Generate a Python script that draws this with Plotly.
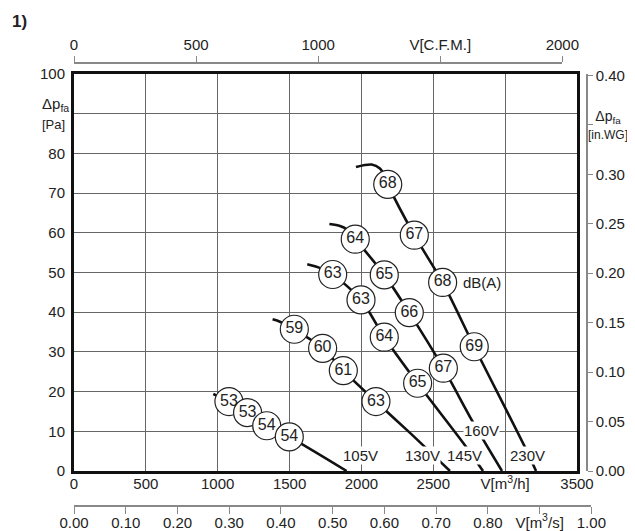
import plotly.graph_objects as go

# fan curves: airflow V [m3/h] vs static pressure dp_fa [Pa]
q_230 = [1962, 2071, 2129, 2152, 2183, 2368, 2565, 2785, 3138, 3215]
p_230 = [76.6, 77.2, 76.2, 74.9, 72.2, 59.4, 47.5, 31.3, 6.0, 0.0]
q_160 = [1777, 1851, 1897, 1957, 2159, 2333, 2570, 2776, 2978]
p_160 = [62.2, 61.7, 60.9, 58.4, 49.4, 39.9, 25.9, 12.3, 0.0]
q_145 = [1623, 1700, 1800, 1997, 2159, 2391, 2720, 2846]
p_145 = [52.1, 51.3, 49.5, 43.1, 33.7, 22.1, 6.5, 0.0]
q_130 = [1382, 1433, 1533, 1730, 1874, 2101, 2338, 2616]
p_130 = [38.2, 37.6, 35.7, 30.9, 25.3, 17.5, 9.6, 0.0]
q_105 = [969, 1078, 1208, 1341, 1498, 1897]
p_105 = [19.4, 17.5, 14.7, 11.4, 8.6, 0.0]

# sound level markers dB(A) on each curve
db_q_230 = [2183, 2368, 2565, 2785]
db_p_230 = [72.2, 59.4, 47.5, 31.3]
db_230 = ["68", "67", "68", "69"]
db_q_160 = [1957, 2159, 2333, 2570]
db_p_160 = [58.4, 49.4, 39.9, 25.9]
db_160 = ["64", "65", "66", "67"]
db_q_145 = [1800, 1997, 2159, 2391]
db_p_145 = [49.5, 43.1, 33.7, 22.1]
db_145 = ["63", "63", "64", "65"]
db_q_130 = [1533, 1730, 1874, 2101]
db_p_130 = [35.7, 30.9, 25.3, 17.5]
db_130 = ["59", "60", "61", "63"]
db_q_105 = [1078, 1208, 1341, 1498]
db_p_105 = [17.5, 14.7, 11.4, 8.6]
db_105 = ["53", "53", "54", "54"]

volt_text = ["105V", "130V", "145V", "160V", "230V"]
volt_q = [1994, 2424, 2720, 2832, 3154]
volt_p = [4.0, 4.0, 4.0, 10.3, 4.0]

# axis ticks
mh_ticks = [0, 500, 1000, 1500, 2000, 2500, 3000, 3500]
mh_text = ["0", "500", "1000", "1500", "2000", "2500", "V[m<sup>3</sup>/h]", "3500"]
pa_ticks = [0, 10, 20, 30, 40, 50, 60, 70, 80, 90, 100]
pa_text = ["0", "10", "20", "30", "40", "50", "60", "70", "80", " ", "100"]
cfm_ticks = [0, 500, 1000, 1500, 2000]
cfm_text = ["0", "500", "1000", "V[C.F.M.]", "2000"]
ms_ticks = [0.0, 0.1, 0.2, 0.3, 0.4, 0.5, 0.6, 0.7, 0.8, 0.9, 1.0]
ms_text = ["0.00", "0.10", "0.20", "0.30", "0.40", "0.50", "0.60", "0.70", "0.80",
           "V[m<sup>3</sup>/s]", "1.00"]
wg_ticks = [0.0, 0.05, 0.10, 0.15, 0.20, 0.25, 0.30, 0.35, 0.40]
wg_text = ["0.00", "0.05", "0.10", "0.15", "0.20", "0.25", "0.30", " ", "0.40"]

FONT = "Liberation Sans, Arial, sans-serif"
INK = "#222"

fig = go.Figure()

curves = [(q_105, p_105), (q_130, p_130), (q_145, p_145), (q_160, p_160), (q_230, p_230)]
for q, p in curves:
    fig.add_trace(go.Scatter(x=q, y=p, mode="lines",
        line=dict(color="#111", width=2.6, shape="spline", smoothing=0.8),
        hoverinfo="skip"))

bubbles = [(db_q_105, db_p_105, db_105), (db_q_130, db_p_130, db_130),
           (db_q_145, db_p_145, db_145), (db_q_160, db_p_160, db_160),
           (db_q_230, db_p_230, db_230)]
for q, p, t in bubbles:
    fig.add_trace(go.Scatter(x=q, y=p, mode="markers+text", text=t,
        textposition="middle center", textfont=dict(family=FONT, size=16, color=INK),
        marker=dict(size=28, color="white", line=dict(color=INK, width=1.2)),
        hoverinfo="skip"))

# empty traces so the secondary scales get drawn
fig.add_trace(go.Scatter(x=[None], y=[None], xaxis="x2", yaxis="y3", hoverinfo="skip"))
fig.add_trace(go.Scatter(x=[None], y=[None], xaxis="x3", yaxis="y3", hoverinfo="skip"))
fig.add_trace(go.Scatter(x=[None], y=[None], xaxis="x", yaxis="y2", hoverinfo="skip"))

for t, q, p in zip(volt_text, volt_q, volt_p):
    fig.add_annotation(x=q, y=p, xref="x", yref="y", text=t, showarrow=False,
        bgcolor="white", borderpad=0, font=dict(family=FONT, size=15, color=INK))
fig.add_annotation(x=2837, y=47.5, xref="x", yref="y", text="dB(A)", showarrow=False,
    font=dict(family=FONT, size=15, color=INK))

fig.add_annotation(x=-0.121, y=1.017, xref="paper", yref="paper", text="<b>1)</b>",
    showarrow=False, xanchor="left", yanchor="middle",
    font=dict(family=FONT, size=17, color=INK))
fig.add_annotation(x=-0.064, y=90, xref="paper", yref="y",
    text="Δp<sub>fa</sub><br><span style='font-size:13px'>[Pa]</span>", showarrow=False,
    xanchor="left", yanchor="middle", align="left",
    font=dict(family=FONT, size=15, color=INK))
fig.add_annotation(x=1.006, y=0.35, xref="paper", yref="y2",
    text="Δp<sub>fa</sub><br><span style='font-size:12px'>[in.WG]</span>", showarrow=False,
    xanchor="center", yanchor="middle", align="center",
    font=dict(family=FONT, size=14, color=INK))

# page body adds an 8px offset, so margins are pulled in by 8px
fig.update_layout(
    width=635, height=531,
    margin=dict(l=66, r=38, t=22, b=33, autoexpand=False),
    paper_bgcolor="white", plot_bgcolor="rgba(0,0,0,0)",
    showlegend=False,
    font=dict(family=FONT, size=15, color=INK),
    xaxis=dict(domain=[0, 0.947269], range=[0, 3500], anchor="y", automargin=False,
               tickvals=mh_ticks, ticktext=mh_text,
               showgrid=True, gridcolor="#666", gridwidth=1, zeroline=False,
               showline=True, linewidth=3, linecolor="#111", mirror=True,
               ticks="", ticklabelstandoff=-3),
    yaxis=dict(domain=[0.073529, 0.907563], range=[0, 100], anchor="x", automargin=False,
               tickvals=pa_ticks, ticktext=pa_text,
               showgrid=True, gridcolor="#666", gridwidth=1, zeroline=False,
               showline=True, linewidth=3, linecolor="#111", mirror=True,
               ticks="outside", ticklen=3, tickcolor="rgba(0,0,0,0)"),
    xaxis2=dict(domain=[0, 0.919661], range=[0, 2000], anchor="free", position=0.930672,
                side="top", tickvals=cfm_ticks, ticktext=cfm_text, automargin=False,
                showgrid=False, zeroline=False, showline=True, linewidth=1.5,
                linecolor="#888", ticks="outside", ticklen=6, tickcolor="#888"),
    xaxis3=dict(domain=[0, 0.974331], range=[0, 1], anchor="free", position=0,
                side="bottom", tickvals=ms_ticks, ticktext=ms_text, automargin=False,
                showgrid=False, zeroline=False, showline=True, linewidth=1.5,
                linecolor="#888", ticks="outside", ticklen=7, tickcolor="#888",
                ticklabelstandoff=-4),
    yaxis2=dict(overlaying="y", range=[0, 100 / 249.089], anchor="free", automargin=False,
                position=0.966102, side="right", tickvals=wg_ticks, ticktext=wg_text,
                showgrid=False, zeroline=False, showline=True, linewidth=1.5,
                linecolor="#888", ticks="outside", ticklen=5, tickcolor="#888"),
    yaxis3=dict(domain=[0.073529, 0.907563], range=[0, 1], visible=False, automargin=False),
)

fig.write_html("out.html")
